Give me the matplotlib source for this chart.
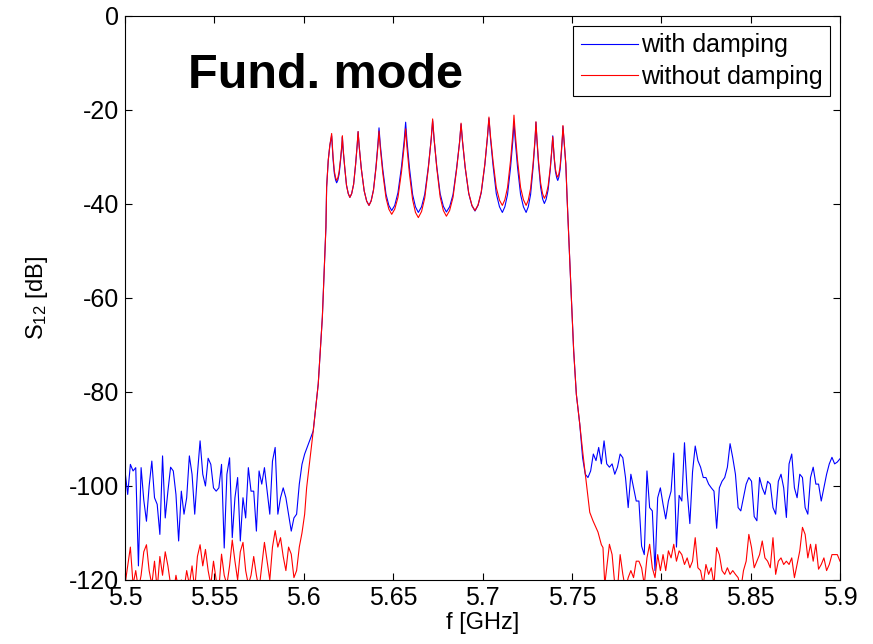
import numpy as np
import matplotlib
matplotlib.use('Agg')
import matplotlib.pyplot as plt

plt.rcParams['font.family'] = ['Liberation Sans', 'DejaVu Sans']
plt.rcParams['mathtext.default'] = 'regular'

# ---- data ----
# stop band below the filter: sampled every 1.5 MHz from 5.5 GHz
f_left_start, f_step = 5.5, 0.0015
blue_left = [-96.8, -101.8, -95.4, -96.8, -96.1, -117.0, -96.1, -103.0, -107.5, -100.0,
             -94.7, -102.5, -103.9, -110.3, -93.6, -106.8, -101.1, -96.0, -96.8, -101.8,
             -111.7, -101.1, -106.0, -102.5, -93.6, -97.5, -106.0, -97.5, -90.4, -97.5,
             -100.0, -94.1, -95.4, -100.4, -101.1, -100.4, -95.4, -113.2, -97.5, -94.0,
             -111.0, -102.5, -98.2, -111.7, -102.5, -106.8, -96.1, -101.1, -101.1, -109.6,
             -96.8, -99.6, -96.1, -101.1, -106.0, -94.7, -91.8, -106.0, -102.5, -100.4,
             -102.5, -106.0, -109.6, -106.8, -106.0, -99.6, -95.4, -93.2]
red_left = [-121, -117, -113, -121, -118, -122, -119, -114, -112.5, -118,
            -121, -116, -122, -115, -119, -114, -117, -121, -123, -119,
            -122, -120, -122, -118, -121, -117, -122, -115, -112.5, -117,
            -113.5, -118, -121, -116, -120, -122, -114.5, -119, -121, -117,
            -111.5, -116, -120, -114, -112, -118, -121, -119, -115, -119,
            -122, -117, -112, -116, -120, -113, -109.5, -113, -111, -115,
            -118, -113, -114.5, -119.5, -118, -113, -110, -106]

# rising edge (both curves)
f_rise = [5.6053, 5.6081, 5.6104, 5.6115, 5.6124, 5.6128, 5.6137, 5.6146]
s_rise = [-88.3, -78.3, -64.1, -53.5, -44.9, -36.4, -30.7, -27.5]
f_rise_red = [5.6016]
s_rise_red = [-100.4]

# pass band: 12 resonance peaks, one row per peak-to-peak interval
f_pass = [5.6156, 5.6159, 5.6164, 5.6171, 5.6178, 5.6184, 5.6191, 5.6198, 5.6206, 5.6213,
          5.6216, 5.6220, 5.6229, 5.6239, 5.6249, 5.6258, 5.6268, 5.6279, 5.6290, 5.6299,
          5.6304, 5.6310, 5.6322, 5.6338, 5.6352, 5.6365, 5.6377, 5.6390, 5.6404, 5.6415,
          5.6421, 5.6428, 5.6442, 5.6460, 5.6476, 5.6492, 5.6509, 5.6527, 5.6547, 5.6562,
          5.6570, 5.6577, 5.6591, 5.6609, 5.6625, 5.6641, 5.6659, 5.6677, 5.6697, 5.6713,
          5.6721, 5.6729, 5.6744, 5.6763, 5.6781, 5.6798, 5.6816, 5.6835, 5.6855, 5.6872,
          5.6880, 5.6888, 5.6903, 5.6923, 5.6941, 5.6958, 5.6975, 5.6993, 5.7013, 5.7028,
          5.7036, 5.7044, 5.7059, 5.7077, 5.7095, 5.7111, 5.7125, 5.7140, 5.7157, 5.7170,
          5.7176, 5.7183, 5.7196, 5.7213, 5.7229, 5.7244, 5.7256, 5.7269, 5.7283, 5.7294,
          5.7299, 5.7304, 5.7313, 5.7325, 5.7336, 5.7346, 5.7356, 5.7367, 5.7379, 5.7388,
          5.7393, 5.7396, 5.7401, 5.7408, 5.7415, 5.7421, 5.7427, 5.7434, 5.7441, 5.7447,
          5.7450]
red_pass = [-25.0, -27.0, -30.0, -33.0, -34.4, -35.0, -34.4, -33.1, -30.3, -27.4,
            -25.5, -28.1, -32.1, -36.0, -37.8, -38.6, -37.8, -35.8, -31.6, -27.4,
            -24.6, -27.7, -32.5, -37.2, -39.4, -40.3, -39.4, -37.1, -32.4, -27.7,
            -24.5, -28.0, -33.4, -38.7, -41.1, -42.2, -41.1, -38.6, -33.1, -27.6,
            -24.0, -27.8, -33.5, -39.1, -41.8, -42.9, -41.6, -38.7, -32.4, -26.1,
            -21.9, -26.0, -32.3, -38.5, -41.4, -42.6, -41.4, -38.6, -32.7, -26.8,
            -22.8, -26.5, -32.1, -37.7, -40.3, -41.4, -40.2, -37.4, -31.5, -25.5,
            -21.5, -25.3, -30.9, -36.5, -39.2, -40.3, -39.1, -36.5, -30.7, -24.9,
            -21.1, -24.9, -30.7, -36.5, -39.1, -40.3, -39.2, -36.7, -31.4, -26.1,
            -22.5, -25.8, -30.7, -35.5, -37.8, -38.8, -38.0, -36.2, -32.3, -28.3,
            -25.7, -27.4, -30.0, -32.6, -33.8, -34.3, -33.6, -32.1, -28.8, -25.5,
            -23.3]
blue_pass = [-25.5, -27.5, -30.5, -33.5, -34.9, -35.5, -34.9, -33.6, -30.7, -27.7,
             -25.8, -28.4, -32.2, -36.0, -37.8, -38.6, -37.8, -35.8, -31.6, -27.4,
             -24.6, -27.7, -32.5, -37.2, -39.4, -40.3, -39.3, -37.0, -32.1, -27.1,
             -23.8, -27.3, -32.6, -37.9, -40.3, -41.4, -40.3, -37.6, -32.0, -26.4,
             -22.6, -26.4, -32.2, -38.0, -40.6, -41.8, -40.6, -37.9, -32.1, -26.2,
             -22.3, -26.2, -32.0, -37.8, -40.5, -41.7, -40.6, -38.0, -32.4, -26.7,
             -23.0, -26.7, -32.3, -37.8, -40.4, -41.5, -40.3, -37.6, -31.7, -25.7,
             -21.8, -25.8, -31.8, -37.8, -40.6, -41.8, -40.6, -38.0, -32.2, -26.4,
             -22.6, -26.4, -32.2, -38.0, -40.6, -41.8, -40.6, -38.0, -32.2, -26.4,
             -22.6, -26.1, -31.3, -36.4, -38.9, -39.9, -39.0, -37.0, -32.7, -28.4,
             -25.5, -27.4, -30.3, -33.1, -34.4, -35.0, -34.3, -32.7, -29.3, -25.8,
             -23.5]

# falling edge (both curves)
f_fall = [5.7458, 5.7466, 5.7473, 5.7484, 5.7497, 5.7510, 5.7525, 5.7544]
s_fall = [-27.5, -31.5, -38.5, -48.5, -59.9, -71.2, -80.5, -86.8]
f_fall_red = [5.7562, 5.7600, 5.7618, 5.7646, 5.7665, 5.7674, 5.7684]
s_fall_red = [-93.2, -105.6, -107.4, -109.8, -112.5, -113.1, -121]

# stop band above the filter
f_blue_right_start = 5.756
blue_right = [-94.0, -97.5, -98.2, -96.8, -93.2, -94.6, -91.8, -95.3, -90.4, -95.3,
              -96.0, -95.3, -97.5, -96.0, -93.2, -94.0, -98.2, -104.6, -97.5, -100.4,
              -103.2, -103.2, -112.8, -114.6, -96.8, -104.6, -105.3, -118.0, -102.5, -100.4,
              -103.9, -107.0, -103.2, -101.1, -93.0, -113.0, -102.0, -103.2, -90.8, -101.1,
              -108.0, -97.0, -91.5, -94.6, -96.0, -98.2, -98.2, -99.6, -100.4, -101.1,
              -109.0, -100.4, -99.0, -98.2, -96.0, -91.0, -94.0, -97.5, -104.6, -105.3,
              -102.5, -99.6, -98.2, -99.0, -106.5, -107.4, -98.2, -100.4, -101.8, -99.0,
              -99.6, -104.6, -106.0, -99.0, -97.5, -100.4, -106.7, -95.3, -93.2, -100.4,
              -102.5, -97.5, -98.2, -104.6, -106.0, -98.2, -96.0, -99.6, -99.6, -103.2,
              -100.4, -97.5, -95.3, -93.9, -95.3, -94.9, -94.2]
f_red_right_start = 5.771
red_right = [-112.4, -114.6, -121, -122, -114.6, -118.8, -122, -119.5, -118, -119.5,
             -116, -116, -117.4, -121, -115.3, -112.4, -117.4, -119.5, -114.6, -118,
             -114.6, -118, -113.8, -115.3, -112.4, -116, -113.8, -114.6, -116.7, -115.3,
             -117.4, -116, -111, -117.4, -118, -121, -116.7, -118.8, -117.4, -121,
             -113.1, -114.6, -118, -118.8, -117.4, -118.8, -118, -118.8, -119.5, -122,
             -118, -116, -110.3, -113.1, -117.4, -116, -114.6, -111.7, -115.3, -116,
             -117.4, -111, -118.8, -116, -115.3, -116.7, -116, -116.7, -115.3, -119.5,
             -116.7, -113.8, -108.8, -110.3, -115.3, -112.4, -116, -112.4, -117.7, -116.7,
             -115.3, -118, -116.7, -114.6, -114.6, -114.6, -116]

# ---- assemble the two traces ----
f_left = f_left_start + f_step * np.arange(len(blue_left))
f_blue_right = f_blue_right_start + f_step * np.arange(len(blue_right))
f_red_right = f_red_right_start + f_step * np.arange(len(red_right))

f_blue = np.concatenate([f_left, f_rise, f_pass, f_fall, f_blue_right])
s_blue = np.concatenate([blue_left, s_rise, blue_pass, s_fall, blue_right])
f_red = np.concatenate([f_left, f_rise_red, f_rise, f_pass, f_fall, f_fall_red, f_red_right])
s_red = np.concatenate([red_left, s_rise_red, s_rise, red_pass, s_fall, s_fall_red, red_right])

fig = plt.figure(figsize=(8.73, 6.44), dpi=100)
ax = fig.add_axes([0.1432, 0.0994, 0.8190, 0.8758])

ax.plot(f_blue, s_blue, color='#0000ff', lw=0.8, label='with damping')
ax.plot(f_red, s_red, color='#ff0000', lw=0.8, label='without damping')

ax.set_xlim(5.5, 5.9)
ax.set_ylim(-120, 0)
xt = [5.5, 5.55, 5.6, 5.65, 5.7, 5.75, 5.8, 5.85, 5.9]
ax.set_xticks(xt)
ax.set_xticklabels(['5.5', '5.55', '5.6', '5.65', '5.7', '5.75', '5.8', '5.85', '5.9'])
ax.set_yticks([-120, -100, -80, -60, -40, -20, 0])
ax.set_yticklabels(['-120', '-100', '-80', '-60', '-40', '-20', '0'])
ax.tick_params(direction='in', top=True, right=True, length=5, width=0.8,
               labelsize=18, pad=4)
for sp in ax.spines.values():
    sp.set_linewidth(0.8)

ax.set_xlabel('f [GHz]', fontsize=17, labelpad=2)
ax.set_ylabel('S$_{12}$ [dB]', fontsize=17, labelpad=14)

ax.text(5.535, -15.4, 'Fund. mode', fontsize=35, fontweight='bold', va='baseline')

leg = ax.legend(loc='upper right', fontsize=18, fancybox=False, edgecolor='k',
                framealpha=1, handlelength=2.3, handletextpad=0.1,
                borderpad=0.3, labelspacing=0.3, borderaxespad=0.4)
leg.get_frame().set_linewidth(0.8)

fig.savefig('out.png', dpi=100)
